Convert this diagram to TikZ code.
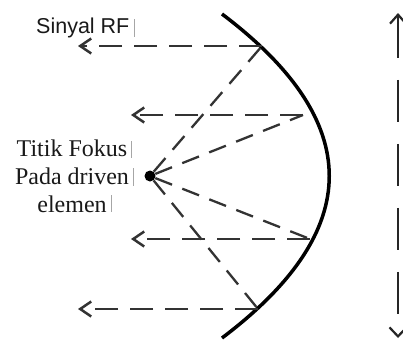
\documentclass[tikz,border=0pt]{standalone}
\usepackage{fontspec}
\setmainfont{Liberation Serif}
\setsansfont{Liberation Sans}
\usetikzlibrary{arrows.meta}

\tikzset{
  ray/.style={line width=2.8pt, dash pattern=on 23pt off 12pt, color=black!80},
  slant/.style={line width=2.3pt, dash pattern=on 18pt off 11pt, color=black!80},
  tipleft/.style={-{Straight Barb[length=11pt,width=15pt,line width=2.5pt]}},
  dish/.style={line width=3.5pt},
  axis/.style={line width=2.7pt, dash pattern=on 42pt off 22pt, color=black!85,
    {Straight Barb[length=9pt,width=16pt,line width=2.2pt]}-{Straight Barb[length=9pt,width=17pt,line width=2.2pt]}},
  cursor/.style={line width=0.9pt, color=black!35},
  focusdot/.style={circle, fill=black, inner sep=0pt, minimum size=11pt},
  caption/.style={inner sep=0pt, color=black!90}
}

\begin{document}
\begin{tikzpicture}[x=1pt, y=-1pt]
  \useasboundingbox (0,0) rectangle (403,340);
  \fill[white] (0,0) rectangle (403,340);

  % reflector (parabolic dish)
  \coordinate (dtop) at (222,14);
  \coordinate (dbot) at (222,338);
  \draw[dish] (dtop) .. controls (365,122) and (365,230) .. (dbot);

  % focus point on the driven element
  \node[focusdot] (f) at (150,176) {};

  % reflection points on the dish
  \coordinate (r1) at (262,46);
  \coordinate (r2) at (303,115);
  \coordinate (r3) at (310,239);
  \coordinate (r4) at (258,309);

  % free ends of the outgoing signal rays
  \coordinate (o1) at (78,46);
  \coordinate (o2) at (131,115);
  \coordinate (o3) at (131,239);
  \coordinate (o4) at (78,309);

  % rays from the focus to the dish
  \foreach \r in {r1,r2,r3,r4}
    \draw[slant] (f) -- (\r);

  % reflected, parallel rays
  \foreach \r/\o in {r1/o1,r2/o2,r3/o3,r4/o4}
    \draw[ray, tipleft] (\r) -- (\o);

  % wavefront direction axis
  \coordinate (vt) at (398,13);
  \coordinate (vb) at (398,338);
  \draw[axis] (vt) -- (vb);

  % labels
  \node[caption, anchor=base west, font=\sffamily\fontsize{21.5}{24}\selectfont]
    (rf) at (36,33) {Sinyal RF};
  \node[caption, anchor=center, align=center, font=\rmfamily\fontsize{24}{28}\selectfont]
    (fk) at (72,176) {Titik Fokus\\Pada driven\\elemen};

  % text-box edge marks
  \draw[cursor] (134,19) -- (134,37);
  \draw[cursor] (131,141) -- (131,158);
  \draw[cursor] (133,168) -- (133,186);
  \draw[cursor] (111,195) -- (111,212);
\end{tikzpicture}
\end{document}
